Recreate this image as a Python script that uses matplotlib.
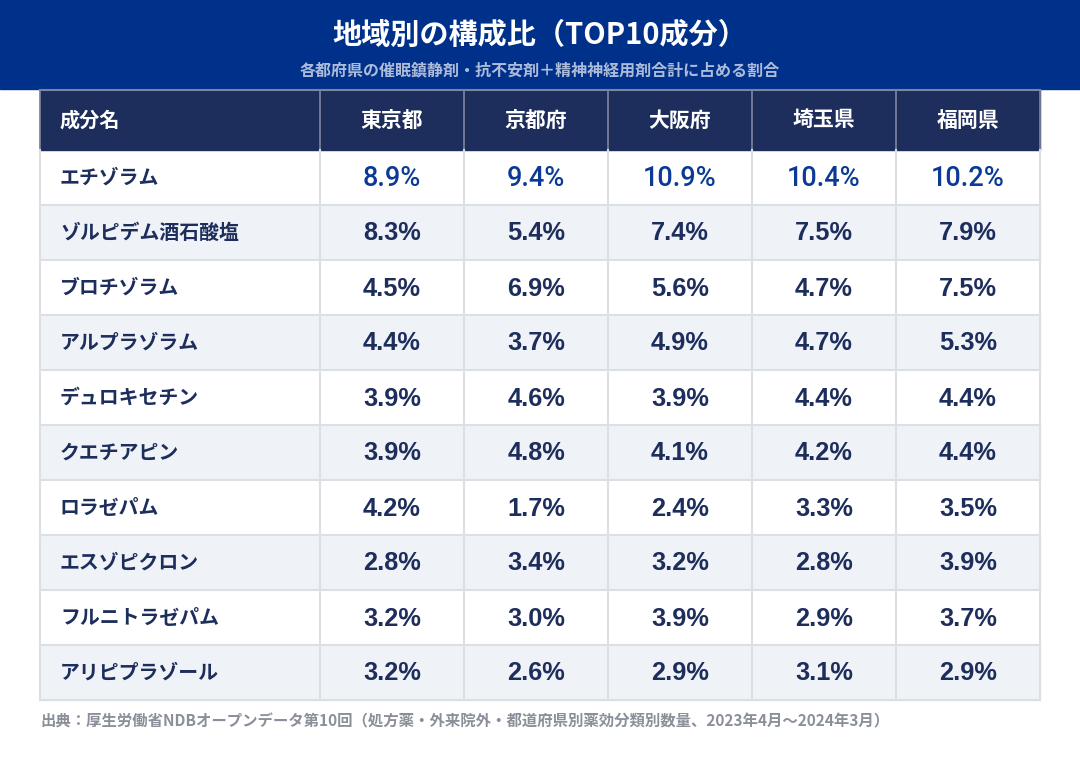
# 地域別の構成比 (TOP10成分) table chart
import matplotlib
matplotlib.use("Agg")
import matplotlib.pyplot as plt
from matplotlib.patches import Rectangle

plt.rcParams['font.family'] = ['Noto Sans CJK JP', 'DejaVu Sans']

# === Data ===
title = "地域別の構成比（TOP10成分）"
subtitle = "各都府県の催眠鎮静剤・抗不安剤＋精神神経用剤合計に占める割合"
source = "出典：厚生労働省NDBオープンデータ第10回（処方薬・外来院外・都道府県別薬効分類別数量、2023年4月～2024年3月）"

first_header = "成分名"
prefectures = ["東京都", "京都府", "大阪府", "埼玉県", "福岡県"]
ingredients = ["エチゾラム", "ゾルピデム酒石酸塩", "ブロチゾラム", "アルプラゾラム",
               "デュロキセチン", "クエチアピン", "ロラゼパム", "エスゾピクロン",
               "フルニトラゼパム", "アリピプラゾール"]
tokyo = [8.9, 8.3, 4.5, 4.4, 3.9, 3.9, 4.2, 2.8, 3.2, 3.2]
kyoto = [9.4, 5.4, 6.9, 3.7, 4.6, 4.8, 1.7, 3.4, 3.0, 2.6]
osaka = [10.9, 7.4, 5.6, 4.9, 3.9, 4.1, 2.4, 3.2, 3.9, 2.9]
saitama = [10.4, 7.5, 4.7, 4.7, 4.4, 4.2, 3.3, 2.8, 2.9, 3.1]
fukuoka = [10.2, 7.9, 7.5, 5.3, 4.4, 4.4, 3.5, 3.9, 3.7, 2.9]
columns = [tokyo, kyoto, osaka, saitama, fukuoka]

# === Styling ===
band_color = "#00318a"
head_color = "#1d2d5c"
text_color = "#1d2d5c"
top_color = "#0a3a96"
alt_color = "#eff2f7"
grid_color = "#dcdfe4"
num_font = ["Liberation Sans", "DejaVu Sans"]

W, H = 1080, 760
fig = plt.figure(figsize=(W / 100, H / 100), dpi=100)
ax = fig.add_axes([0, 0, 1, 1])
ax.set_xlim(0, W)
ax.set_ylim(H, 0)
ax.axis("off")

# title band
ax.add_patch(Rectangle((0, 0), W, 89, color=band_color, zorder=0))
ax.text(W / 2, 35, title, color="white", fontsize=21, fontweight="bold",
        ha="center", va="center")
ax.text(W / 2, 70, subtitle, color="#aebcdb", fontsize=11.5, fontweight="bold",
        ha="center", va="center")

# table geometry
left, first_w, col_w = 40, 280, 144
head_top, head_h, row_h = 90, 60, 55
col_x = [left, left + first_w] + [left + first_w + col_w * (i + 1) for i in range(len(prefectures))]
right = col_x[-1]

# header row
ax.add_patch(Rectangle((left, head_top), right - left, head_h, color=head_color, zorder=1))
ax.text(left + 20, head_top + head_h / 2, first_header, color="white", fontsize=14.5,
        fontweight="bold", ha="left", va="center", zorder=3)
for j, p in enumerate(prefectures):
    cx = (col_x[j + 1] + col_x[j + 2]) / 2
    ax.text(cx, head_top + head_h / 2, p, color="white", fontsize=15,
            fontweight="bold", ha="center", va="center", zorder=3)
for x in col_x:
    ax.plot([x, x], [head_top, head_top + head_h], color="#7d859e", lw=1.2, zorder=2)
ax.plot([left, right], [head_top, head_top], color="#7d859e", lw=1.5, zorder=2)

# body rows
body_top = head_top + head_h
for i, name in enumerate(ingredients):
    y0 = body_top + i * row_h
    bg = "white" if i % 2 == 0 else alt_color
    ax.add_patch(Rectangle((left, y0), right - left, row_h, color=bg, zorder=0))
    yc = y0 + row_h / 2
    ax.text(left + 20, yc, name, color=text_color, fontsize=14.3,
            fontweight="bold", ha="left", va="center", zorder=3)
    for j, vals in enumerate(columns):
        cx = (col_x[j + 1] + col_x[j + 2]) / 2
        if i == 0:
            ax.text(cx, yc + 1, f"{vals[i]:.1f}%", color=top_color, fontsize=19.5,
                    fontweight="medium", ha="center", va="center", zorder=3,
                    family=["Roboto", "DejaVu Sans"])
        else:
            ax.text(cx, yc + 1, f"{vals[i]:.1f}%", color=text_color, fontsize=18.3,
                    fontweight="bold", ha="center", va="center", zorder=3,
                    family=num_font)
    ax.plot([left, right], [y0 + row_h, y0 + row_h], color=grid_color, lw=1.5, zorder=2)

body_bottom = body_top + len(ingredients) * row_h
for x in col_x:
    ax.plot([x, x], [body_top, body_bottom], color=grid_color, lw=1.5, zorder=2)

# source note
ax.text(left, 721, source, color="#8a8f99", fontsize=11.1, fontweight="bold",
        ha="left", va="center")

fig.savefig("out.png", dpi=100)
